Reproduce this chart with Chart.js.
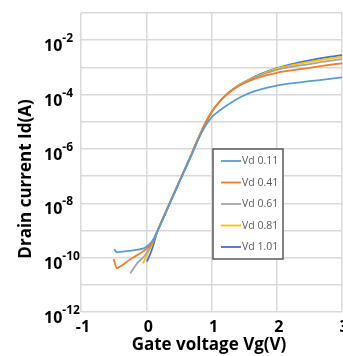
<!DOCTYPE html>
<html>
<head>
<meta charset="utf-8">
<script src="https://cdn.jsdelivr.net/npm/chart.js@4"></script>
<style>
  html, body { margin: 0; padding: 0; background: #fff; }
  #wrap { width: 343px; height: 356px; }
</style>
</head>
<body>
<div id="wrap"><canvas id="chart"></canvas></div>
<script>
// Id-Vg transfer curves; Id stored as log10(A)
const seriesLabels = ['Vd 0.11', 'Vd 0.41', 'Vd 0.61', 'Vd 0.81', 'Vd 1.01'];
const seriesColors = ['#5B9BD5', '#ED7D31', '#A5A5A5', '#FFC000', '#4472C4'];

const vg011 = [-0.49, -0.45, -0.37, -0.2, -0.04, 0.035, 0.1, 0.17, 0.3, 0.5, 0.7, 0.8, 0.9, 1.0, 1.1, 1.2, 1.3, 1.44, 1.6, 1.74, 2.0, 2.25, 2.5, 2.75, 3.0];
const logId011 = [-9.69, -9.80, -9.78, -9.73, -9.66, -9.54, -9.36, -9.04, -8.34, -7.26, -6.2, -5.64, -5.18, -4.84, -4.63, -4.46, -4.3, -4.1, -3.93, -3.82, -3.67, -3.58, -3.51, -3.44, -3.37];

const vg041 = [-0.5, -0.45, -0.4, -0.245, -0.09, 0.01, 0.09, 0.17, 0.3, 0.5, 0.7, 0.8, 0.9, 1.0, 1.1, 1.2, 1.3, 1.44, 1.6, 1.74, 2.0, 2.25, 2.5, 2.75, 3.0];
const logId041 = [-10.05, -10.39, -10.33, -10.06, -9.84, -9.66, -9.45, -9.02, -8.32, -7.24, -6.16, -5.6, -5.08, -4.65, -4.33, -4.07, -3.87, -3.66, -3.48, -3.36, -3.2, -3.1, -3.02, -2.93, -2.85];

const vg061 = [-0.245, -0.14, -0.015, 0.06, 0.17, 0.3, 0.5, 0.7, 0.8, 0.9, 1.0, 1.1, 1.2, 1.3, 1.44, 1.6, 1.74, 2.0, 2.25, 2.5, 2.75, 3.0];
const logId061 = [-10.58, -10.21, -9.9, -9.6, -9.02, -8.32, -7.24, -6.16, -5.6, -5.08, -4.65, -4.33, -4.07, -3.86, -3.63, -3.44, -3.3, -3.09, -2.97, -2.88, -2.78, -2.70];

const vg081 = [-0.05, 0.035, 0.09, 0.17, 0.3, 0.5, 0.7, 0.8, 0.9, 1.0, 1.1, 1.2, 1.3, 1.44, 1.6, 1.74, 2.0, 2.25, 2.5, 2.75, 3.0];
const logId081 = [-10.21, -9.78, -9.5, -9.03, -8.32, -7.24, -6.16, -5.6, -5.08, -4.65, -4.33, -4.07, -3.86, -3.62, -3.43, -3.28, -3.05, -2.91, -2.8, -2.7, -2.61];

const vg101 = [0.01, 0.09, 0.17, 0.3, 0.5, 0.7, 0.8, 0.9, 1.0, 1.1, 1.2, 1.3, 1.44, 1.6, 1.74, 2.0, 2.25, 2.5, 2.75, 3.0];
const logId101 = [-10.15, -9.68, -9.05, -8.32, -7.24, -6.16, -5.6, -5.08, -4.65, -4.33, -4.07, -3.86, -3.62, -3.42, -3.26, -3.03, -2.87, -2.74, -2.63, -2.55];

const vgSeries = [vg011, vg041, vg061, vg081, vg101];
const logIdSeries = [logId011, logId041, logId061, logId081, logId101];

const xTicks = [-1, 0, 1, 2, 3];
const yDecades = [-12, -11, -10, -9, -8, -7, -6, -5, -4, -3, -2, -1];
const yLabelDecades = [-12, -10, -8, -6, -4, -2];

const xTitle = 'Gate voltage Vg(V)';
const yTitle = 'Drain current Id(A)';

const boldFont = '"Open Sans", "DejaVu Sans", sans-serif';

const datasets = seriesLabels.map((label, i) => ({
  label,
  data: vgSeries[i].map((vg, j) => ({ x: vg, y: Math.pow(10, logIdSeries[i][j]) })),
  borderColor: seriesColors[i],
  backgroundColor: seriesColors[i],
  borderWidth: 1.8,
  pointRadius: 0,
  cubicInterpolationMode: 'monotone',
  fill: false
}));

const labelsPlugin = {
  id: 'excelLabels',
  afterDraw(chart) {
    const ctx = chart.ctx;
    const xs = chart.scales.x;
    const ys = chart.scales.y;
    ctx.save();
    ctx.fillStyle = '#000';

    // y tick labels: 10 with superscript exponent
    yLabelDecades.forEach(e => {
      const py = ys.getPixelForValue(Math.pow(10, e));
      ctx.font = 'bold 16px ' + boldFont;
      ctx.textAlign = 'left';
      ctx.textBaseline = 'alphabetic';
      ctx.fillText('10', 44, py + 11);
      const w = ctx.measureText('10').width;
      ctx.font = 'bold 12px ' + boldFont;
      ctx.fillText('-' + Math.abs(e), 44 + w, py + 2);
    });

    // x tick labels
    ctx.font = 'bold 16px ' + boldFont;
    ctx.textAlign = 'center';
    ctx.textBaseline = 'alphabetic';
    xTicks.forEach(v => {
      ctx.fillText(String(v), xs.getPixelForValue(v) + 2, 332);
    });

    // axis titles
    ctx.font = 'bold 17px ' + boldFont;
    ctx.fillText(xTitle, 209, 350);
    ctx.save();
    ctx.translate(31, 179);
    ctx.rotate(-Math.PI / 2);
    ctx.fillText(yTitle, 0, 0);
    ctx.restore();

    // legend box inside the plot
    const bx = 213, by = 149, bw = 70, bh = 110;
    ctx.fillStyle = '#fff';
    ctx.fillRect(bx, by, bw, bh);
    ctx.strokeStyle = '#595959';
    ctx.lineWidth = 1.5;
    ctx.strokeRect(bx, by, bw, bh);
    ctx.font = '10.5px ' + boldFont;
    ctx.textAlign = 'left';
    ctx.textBaseline = 'middle';
    chart.data.datasets.forEach((ds, i) => {
      const ly = 161 + i * 21.5;
      ctx.strokeStyle = ds.borderColor;
      ctx.lineWidth = 1.8;
      ctx.beginPath();
      ctx.moveTo(221, ly);
      ctx.lineTo(241, ly);
      ctx.stroke();
      ctx.fillStyle = '#595959';
      ctx.fillText(ds.label, 242, ly + 0.5);
    });
    ctx.restore();
  }
};

new Chart(document.getElementById('chart'), {
  type: 'line',
  data: { datasets },
  options: {
    responsive: true,
    maintainAspectRatio: false,
    animation: false,
    layout: { padding: { top: 13, right: 1, left: 0, bottom: 0 } },
    plugins: {
      legend: { display: false },
      tooltip: { enabled: false }
    },
    scales: {
      x: {
        type: 'linear',
        min: -1,
        max: 3,
        ticks: { display: false, stepSize: 1 },
        grid: { color: '#d9d9d9', lineWidth: 1.5, drawTicks: false },
        border: { display: false },
        afterFit(scale) { scale.height = 44; }
      },
      y: {
        type: 'logarithmic',
        min: 1e-12,
        max: 1e-1,
        ticks: { display: false },
        grid: { color: '#d9d9d9', lineWidth: 1.5, drawTicks: false },
        border: { display: false },
        afterBuildTicks(scale) {
          scale.ticks = yDecades.map(e => ({ value: Math.pow(10, e) }));
        },
        afterFit(scale) { scale.width = 81; }
      }
    }
  },
  plugins: [labelsPlugin]
});
</script>
</body>
</html>
